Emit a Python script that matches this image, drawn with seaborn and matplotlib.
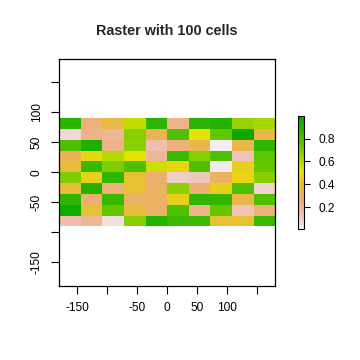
import colorsys
import numpy as np
import pandas as pd
import matplotlib
matplotlib.use("Agg")
import matplotlib.pyplot as plt
from matplotlib.colors import ListedColormap
import seaborn as sns

# Cell values, top row first (lat 90 -> -90), columns lon -180 -> 180
row_01 = [0.88, 0.25, 0.37, 0.57, 0.88, 0.22, 0.88, 0.90, 0.65, 0.62]
row_02 = [0.07, 0.22, 0.20, 0.68, 0.33, 0.80, 0.50, 0.75, 0.97, 0.35]
row_03 = [0.80, 0.92, 0.22, 0.67, 0.15, 0.25, 0.35, 0.02, 0.35, 0.87]
row_04 = [0.32, 0.47, 0.60, 0.50, 0.20, 0.85, 0.68, 0.80, 0.13, 0.77]
row_05 = [0.38, 0.85, 0.70, 0.80, 0.55, 0.47, 0.80, 0.03, 0.45, 0.75]
row_06 = [0.70, 0.45, 0.87, 0.40, 0.27, 0.10, 0.12, 0.30, 0.47, 0.68]
row_07 = [0.38, 0.90, 0.26, 0.40, 0.30, 0.67, 0.27, 0.45, 0.80, 0.08]
row_08 = [0.87, 0.27, 0.85, 0.30, 0.30, 0.45, 0.87, 0.87, 0.35, 0.80]
row_09 = [0.96, 0.40, 0.75, 0.38, 0.30, 0.80, 0.22, 0.75, 0.13, 0.25]
row_10 = [0.15, 0.20, 0.05, 0.68, 0.90, 0.85, 0.85, 0.40, 0.40, 0.85]

x_ticks = [-150, -100, -50, 0, 50, 100, 150]
x_labels = ["-150", "", "-50", "0", "50", "100", ""]
y_ticks = [-150, -100, -50, 0, 50, 100, 150]
y_labels = ["-150", "", "-50", "0", "50", "100", ""]
cbar_ticks = [0.2, 0.4, 0.6, 0.8]
cbar_labels = ["0.2", "0.4", "0.6", "0.8"]
title = "Raster with 100 cells"


def terrain_colors(n):
    # same ramp as R's terrain.colors()
    k = n // 2
    m = n - k + 1
    h = np.concatenate([np.linspace(4 / 12, 2 / 12, k), np.linspace(2 / 12, 0, m)[1:]])
    s = np.concatenate([np.linspace(1, 1, k), np.linspace(1, 0, m)[1:]])
    v = np.concatenate([np.linspace(0.65, 0.9, k), np.linspace(0.9, 0.95, m)[1:]])
    return [colorsys.hsv_to_rgb(a, b, c) for a, b, c in zip(h, s, v)]


sns.set_theme(style="ticks")
plt.rcParams["font.family"] = ["Liberation Sans", "DejaVu Sans"]
plt.rcParams["axes.edgecolor"] = "black"
plt.rcParams["xtick.color"] = "black"
plt.rcParams["ytick.color"] = "black"

cells = pd.DataFrame([row_01, row_02, row_03, row_04, row_05,
                      row_06, row_07, row_08, row_09, row_10])
cmap = ListedColormap(terrain_colors(255)[::-1])

fig = plt.figure(figsize=(3.6, 3.6), dpi=100)
ax = fig.add_axes([59 / 360, 1 - 285.5 / 360, 216.3 / 360, 226.5 / 360])
cax = fig.add_axes([298.3 / 360, 1 - 229 / 360, 6 / 360, 113.3 / 360])

sns.heatmap(cells, ax=ax, cbar_ax=cax, cmap=cmap, vmin=0.01, vmax=1.0,
            xticklabels=False, yticklabels=False)

# map lon/lat ticks onto cell units (36 deg per column, 18 deg per row)
ax.set_xlim(0, 10)
ax.set_ylim((90 + 188.5) / 18, (90 - 188.5) / 18)
ax.set_xticks([(t + 180) / 36 for t in x_ticks])
ax.set_xticklabels(x_labels)
ax.set_yticks([(90 - t) / 18 for t in y_ticks])
ax.set_yticklabels(y_labels, rotation=90, va="center")
ax.tick_params(length=5.8, width=0.8, labelsize=8.6, pad=6,
               bottom=True, left=True)
for sp in ax.spines.values():
    sp.set_visible(True)
    sp.set_linewidth(0.9)
    sp.set_color("black")

cb = ax.collections[0].colorbar
cb.outline.set_visible(True)
cb.outline.set_linewidth(0.8)
cb.outline.set_edgecolor("black")
cb.set_ticks(cbar_ticks)
cb.set_ticklabels(cbar_labels)
cax.tick_params(length=4.2, width=0.8, labelsize=8.6, pad=6, right=True)

fig.text(167 / 360, 1 - 30.7 / 360, title, ha="center", va="center",
         fontsize=10.4, fontweight="bold")

fig.savefig("out.png", dpi=100, facecolor="white")
